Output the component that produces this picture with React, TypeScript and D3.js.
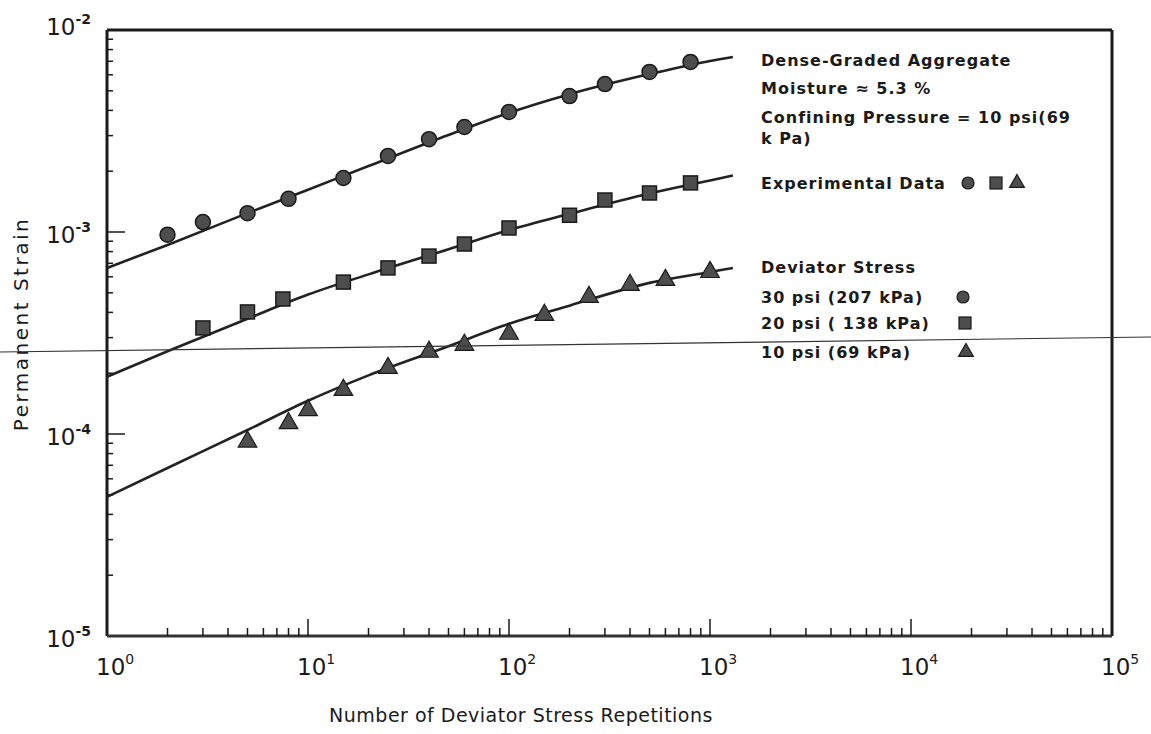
import React from 'react';
import * as d3 from 'd3';

// experimental points
const circleN = [2, 3, 5, 8, 15, 25, 40, 60, 100, 200, 300, 500, 800];
const circleStrain = [9.7e-4, 1.12e-3, 1.24e-3, 1.46e-3, 1.85e-3, 2.38e-3, 2.88e-3, 3.31e-3, 3.93e-3, 4.71e-3, 5.4e-3, 6.2e-3, 6.95e-3];

const squareN = [3, 5, 7.5, 15, 25, 40, 60, 100, 200, 300, 500, 800];
const squareStrain = [3.35e-4, 4.02e-4, 4.66e-4, 5.65e-4, 6.64e-4, 7.6e-4, 8.72e-4, 1.047e-3, 1.21e-3, 1.44e-3, 1.56e-3, 1.75e-3];

const triangleN = [5, 8, 10, 15, 25, 40, 60, 100, 150, 250, 400, 600, 1000];
const triangleStrain = [9.16e-5, 1.13e-4, 1.31e-4, 1.65e-4, 2.12e-4, 2.55e-4, 2.76e-4, 3.13e-4, 3.88e-4, 4.77e-4, 5.47e-4, 5.78e-4, 6.33e-4];

// fitted curves
const fitN = [1, 2, 5, 10, 20, 50, 100, 200, 500, 1000, 1300];
const fit30 = [6.64e-4, 8.63e-4, 1.24e-3, 1.62e-3, 2.12e-3, 3.02e-3, 3.89e-3, 4.81e-3, 6.05e-3, 7.03e-3, 7.35e-3];
const fit20 = [1.92e-4, 2.57e-4, 3.72e-4, 4.9e-4, 6.17e-4, 8.22e-4, 1.023e-3, 1.23e-3, 1.55e-3, 1.8e-3, 1.905e-3];
const fit10 = [4.88e-5, 6.79e-5, 1.047e-4, 1.46e-4, 1.95e-4, 2.72e-4, 3.51e-4, 4.32e-4, 5.6e-4, 6.34e-4, 6.64e-4];

const xExponents = [0, 1, 2, 3, 4, 5];
const yExponents = [-2, -3, -4, -5];

const legendLines = [
  'Dense-Graded Aggregate',
  'Moisture \u2248 5.3 %',
  'Confining Pressure = 10 psi(69',
  'k Pa)',
];
const stressLabels = ['30 psi (207 kPa)', '20 psi ( 138 kPa)', '10 psi (69  kPa)'];

const W = 1151;
const H = 734;
const left = 107, right = 1112, top = 30, bottom = 636;

const markFill = '#4d4d4d';
const ink = '#1a1a1a';

export default function App() {
  const x = d3.scaleLog().domain([1, 1e5]).range([left, right]);
  const y = d3.scaleLog().domain([1e-5, 1e-2]).range([bottom, top]);

  const line = d3.line<[number, number]>()
    .x(d => x(d[0]))
    .y(d => y(d[1]))
    .curve(d3.curveMonotoneX);

  const fits = [fit30, fit20, fit10].map(vals => fitN.map((n, i) => [n, vals[i]] as [number, number]));

  const xMinor: number[] = [];
  for (let e = 0; e < 5; e++) for (let k = 2; k <= 9; k++) xMinor.push(k * Math.pow(10, e));
  const yMinor: number[] = [];
  for (let e = -5; e < -2; e++) for (let k = 2; k <= 9; k++) yMinor.push(k * Math.pow(10, e));

  const tri = d3.symbol(d3.symbolTriangle, 150)();
  const triSmall = d3.symbol(d3.symbolTriangle, 95)();

  const font = "'DejaVu Sans', sans-serif";

  return (
    <svg width={W} height={H} style={{ position: 'absolute', left: 0, top: 0, background: '#fff' }}
      fontFamily={font}>
      {/* frame */}
      <line x1={left} x2={right} y1={top} y2={top} stroke={ink} strokeWidth={3} />
      <line x1={right} x2={right} y1={top} y2={bottom} stroke={ink} strokeWidth={3} />
      <line x1={left} x2={left} y1={top} y2={bottom} stroke={ink} strokeWidth={3} />
      <line x1={left} x2={right} y1={bottom} y2={bottom} stroke="#333" strokeWidth={3} />

      {/* bottom ticks pointing up */}
      {xMinor.map(v => (
        <line key={'xm' + v} x1={x(v)} x2={x(v)} y1={bottom} y2={bottom - 8} stroke={ink} strokeWidth={1.5} />
      ))}
      {xExponents.slice(1, 5).map(e => (
        <line key={'xM' + e} x1={x(Math.pow(10, e))} x2={x(Math.pow(10, e))} y1={bottom} y2={bottom - 17} stroke={ink} strokeWidth={1.5} />
      ))}
      {/* left ticks pointing right */}
      {yMinor.map(v => (
        <line key={'ym' + v} x1={left} x2={left + 6} y1={y(v)} y2={y(v)} stroke={ink} strokeWidth={1.5} />
      ))}
      {[-3, -4].map(e => (
        <line key={'yM' + e} x1={left} x2={left + 18} y1={y(Math.pow(10, e))} y2={y(Math.pow(10, e))} stroke={ink} strokeWidth={1.5} />
      ))}

      {/* tick labels */}
      {xExponents.map(e => (
        <text key={'xl' + e} x={x(Math.pow(10, e)) - 11} y={675} fontSize={23} fill={ink} textAnchor="start">
          10<tspan fontSize={14} dy={-11}>{e}</tspan>
        </text>
      ))}
      {yExponents.map(e => (
        <text key={'yl' + e} x={91} y={y(Math.pow(10, e)) + (e === -2 ? 5 : 11)} fontSize={23} fill={ink} textAnchor="end">
          10<tspan fontSize={14} fontWeight="bold" dy={-11}>{'-' + Math.abs(e)}</tspan>
        </text>
      ))}

      {/* axis titles */}
      <text x={521} y={722} fontSize={19} letterSpacing={0.5} fill={ink} textAnchor="middle">
        Number of Deviator Stress Repetitions
      </text>
      <text transform={`translate(28,324) rotate(-90)`} fontSize={20} letterSpacing={2.5} fill={ink} textAnchor="middle">
        Permanent Strain
      </text>

      {/* fitted curves */}
      {fits.map((pts, i) => (
        <path key={'fit' + i} d={line(pts) || ''} fill="none" stroke="#222" strokeWidth={2.6} />
      ))}

      {/* experimental data */}
      {circleN.map((n, i) => (
        <circle key={'c' + i} cx={x(n)} cy={y(circleStrain[i])} r={7.5} fill={markFill} stroke={ink} strokeWidth={1.5} />
      ))}
      {squareN.map((n, i) => (
        <rect key={'s' + i} x={x(n) - 7} y={y(squareStrain[i]) - 7} width={14} height={14} fill={markFill} stroke={ink} strokeWidth={1.5} />
      ))}
      {triangleN.map((n, i) => (
        <path key={'t' + i} d={tri || ''} transform={`translate(${x(n)},${y(triangleStrain[i])})`} fill={markFill} stroke={ink} strokeWidth={1.2} />
      ))}

      {/* legend */}
      <g fontSize={16} fontWeight="bold" letterSpacing={1.0} fill={ink} dominantBaseline="central">
        {legendLines.map((t, i) => (
          <text key={'lg' + i} x={761} y={[60, 88, 117, 138][i]}>{t}</text>
        ))}
        <text x={761} y={183}>Experimental Data</text>
        <text x={761} y={267}>Deviator Stress</text>
        {stressLabels.map((t, i) => (
          <text key={'sl' + i} x={761} y={[297, 323, 352][i]}>{t}</text>
        ))}
      </g>
      <circle cx={968} cy={183} r={6} fill={markFill} stroke={ink} strokeWidth={1.2} />
      <rect x={990} y={177} width={12} height={12} fill={markFill} stroke={ink} strokeWidth={1.2} />
      <path d={triSmall || ''} transform="translate(1017,183)" fill={markFill} stroke={ink} strokeWidth={1.2} />
      <circle cx={963} cy={297} r={6} fill={markFill} stroke={ink} strokeWidth={1.2} />
      <rect x={959} y={317} width={12} height={12} fill={markFill} stroke={ink} strokeWidth={1.2} />
      <path d={triSmall || ''} transform="translate(966,352)" fill={markFill} stroke={ink} strokeWidth={1.2} />

      {/* scanner streak across the page */}
      <line x1={0} x2={W} y1={352} y2={337} stroke="#333" strokeWidth={1.2} />
    </svg>
  );
}
